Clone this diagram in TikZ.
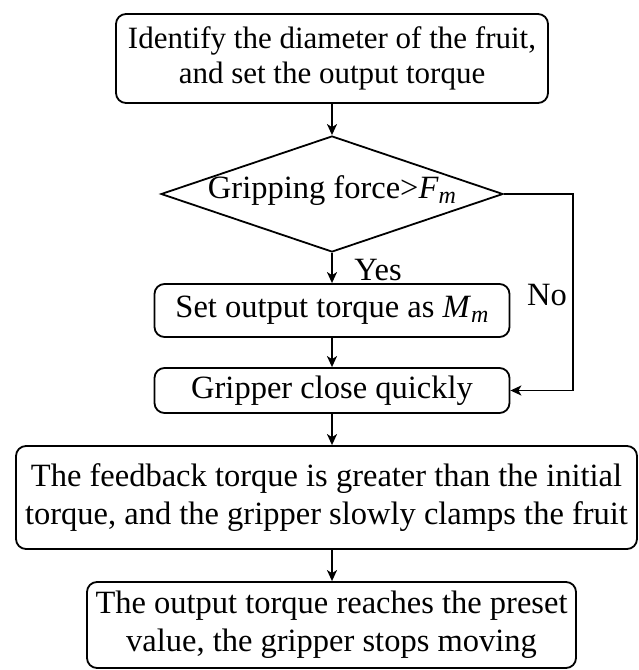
\documentclass[tikz,border=0pt]{standalone}
\usepackage{fontspec}
\setmainfont{Liberation Serif}
\usetikzlibrary{shapes.geometric,arrows.meta}
\newcommand{\subm}{\raisebox{-0.3ex}{\fontsize{24}{24}\selectfont\textit{m}}}
\begin{document}
\begin{tikzpicture}[x=1pt,y=-1pt,
  box/.style={draw, rounded corners=10pt, line width=1.8pt, inner sep=0pt, align=center, font=\fontsize{32.5}{38}\selectfont},
  arr/.style={line width=1.8pt, -{Stealth[length=11pt,width=10pt,inset=3pt]}},
  lbl/.style={font=\fontsize{32.5}{37}\selectfont, inner sep=0pt}]
\useasboundingbox (0,0) rectangle (638,670);
\node[box, minimum width=432pt, minimum height=89pt, font=\fontsize{31}{35}\selectfont] (b1) at (332,58.5) {Identify the diameter of the fruit,\\and set the output torque};
\node[diamond, draw, line width=1.8pt, minimum width=342pt, minimum height=116pt, inner sep=0pt] (d) at (332,194) {};
\node[lbl] (dt) at (332,191) {Gripping force>\textit{F}\subm};
\node[box, minimum width=355pt, minimum height=53pt] (b2) at (332,310.5) {Set output torque as \textit{M}\subm};
\node[box, minimum width=355pt, minimum height=45pt] (b3) at (332,390.5) {Gripper close quickly};
\node[box, minimum width=621pt, minimum height=103pt] (b4) at (326.5,497.5) {The feedback torque is greater than the initial\\torque, and the gripper slowly clamps the fruit};
\node[box, minimum width=489pt, minimum height=86pt] (b5) at (331.5,625) {The output torque reaches the preset\\value, the gripper stops moving};
\node[lbl, anchor=base] (yes) at (378,280) {Yes};
\node[lbl, anchor=base] (no) at (547,305) {No};
\coordinate (nc) at (573,0);
\draw[arr] (b1.south) -- (b1.south |- d.north);
\draw[arr] (d.south) -- (d.south |- b2.north);
\draw[arr] (b2.south) -- (b2.south |- b3.north);
\draw[arr] (b3.south) -- (b3.south |- b4.north);
\draw[arr] (b3.south |- b4.south) -- (b3.south |- b5.north);
\draw[arr] (d.east) -- (d.east -| nc) |- (b3.east);
\end{tikzpicture}
\end{document}
